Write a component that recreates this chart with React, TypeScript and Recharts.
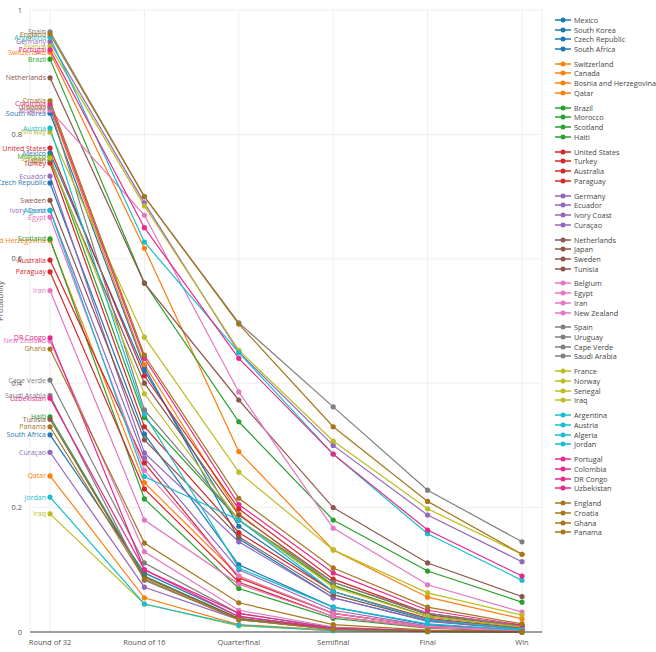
import React from "react";
import {
  LineChart,
  Line,
  XAxis,
  YAxis,
  CartesianGrid,
} from "recharts";

const stages = ["Round of 32", "Round of 16", "Quarterfinal", "Semifinal", "Final", "Win"];

const teams = [
  "Mexico", "South Korea", "Czech Republic", "South Africa",
  "Switzerland", "Canada", "Bosnia and Herzegovina", "Qatar",
  "Brazil", "Morocco", "Scotland", "Haiti",
  "United States", "Turkey", "Australia", "Paraguay",
  "Germany", "Ecuador", "Ivory Coast", "Curaçao",
  "Netherlands", "Japan", "Sweden", "Tunisia",
  "Belgium", "Egypt", "Iran", "New Zealand",
  "Spain", "Uruguay", "Cape Verde", "Saudi Arabia",
  "France", "Norway", "Senegal", "Iraq",
  "Argentina", "Austria", "Algeria", "Jordan",
  "Portugal", "Colombia", "DR Congo", "Uzbekistan",
  "England", "Croatia", "Ghana", "Panama",
];

const groupColors = [
  "#1f77b4", "#ff7f0e", "#2ca02c", "#d62728", "#9467bd", "#8c564b",
  "#e377c2", "#7f7f7f", "#bcbd22", "#17becf", "#e7298a", "#a6761d",
];

const r32 = [
  0.77, 0.834, 0.722, 0.317, 0.932, 0.845, 0.63, 0.251, 0.921, 0.765, 0.632, 0.346,
  0.778, 0.754, 0.598, 0.579, 0.949, 0.733, 0.678, 0.289, 0.891, 0.758, 0.694, 0.342,
  0.839, 0.667, 0.549, 0.468, 0.965, 0.843, 0.405, 0.38, 0.942, 0.804, 0.762, 0.19,
  0.956, 0.81, 0.678, 0.217, 0.936, 0.849, 0.473, 0.376, 0.961, 0.854, 0.455, 0.33,
];
const r16 = [
  0.42, 0.426, 0.318, 0.095, 0.617, 0.43, 0.24, 0.055, 0.561, 0.345, 0.214, 0.09,
  0.412, 0.33, 0.272, 0.23, 0.69, 0.288, 0.28, 0.072, 0.561, 0.4, 0.309, 0.088,
  0.67, 0.26, 0.18, 0.129, 0.7, 0.357, 0.111, 0.083, 0.685, 0.474, 0.383, 0.045,
  0.627, 0.35, 0.25, 0.045, 0.65, 0.44, 0.1, 0.1, 0.7, 0.445, 0.143, 0.085,
];
const qf = [
  0.17, 0.15, 0.108, 0.025, 0.29, 0.19, 0.09, 0.012, 0.338, 0.18, 0.07, 0.022,
  0.198, 0.16, 0.087, 0.08, 0.45, 0.145, 0.1, 0.02, 0.373, 0.188, 0.153, 0.022,
  0.386, 0.09, 0.077, 0.035, 0.497, 0.18, 0.03, 0.02, 0.453, 0.257, 0.18, 0.01,
  0.449, 0.103, 0.18, 0.011, 0.44, 0.205, 0.03, 0.025, 0.495, 0.215, 0.047, 0.02,
];
const sf = [
  0.065, 0.055, 0.04, 0.006, 0.132, 0.075, 0.03, 0.003, 0.18, 0.075, 0.022, 0.005,
  0.085, 0.065, 0.03, 0.025, 0.3, 0.055, 0.035, 0.004, 0.2, 0.08, 0.06, 0.005,
  0.167, 0.03, 0.025, 0.008, 0.362, 0.08, 0.007, 0.004, 0.307, 0.132, 0.072, 0.002,
  0.286, 0.04, 0.065, 0.002, 0.286, 0.095, 0.006, 0.005, 0.33, 0.103, 0.012, 0.004,
];
const fin = [
  0.02, 0.018, 0.012, 0.002, 0.056, 0.025, 0.009, 0.001, 0.098, 0.025, 0.006, 0.0015,
  0.03, 0.022, 0.009, 0.007, 0.188, 0.017, 0.01, 0.001, 0.111, 0.028, 0.02, 0.0015,
  0.076, 0.009, 0.007, 0.002, 0.228, 0.03, 0.002, 0.001, 0.198, 0.063, 0.025, 0.0005,
  0.158, 0.013, 0.02, 0.0005, 0.164, 0.035, 0.002, 0.0015, 0.21, 0.04, 0.003, 0.001,
];
const win = [
  0.006, 0.005, 0.003, 0.0005, 0.021, 0.007, 0.002, 0.0002, 0.048, 0.008, 0.0015, 0.0003,
  0.01, 0.006, 0.002, 0.0015, 0.113, 0.004, 0.002, 0.0002, 0.057, 0.008, 0.005, 0.0003,
  0.032, 0.002, 0.0015, 0.0004, 0.145, 0.01, 0.0004, 0.0002, 0.125, 0.027, 0.008, 0.0001,
  0.083, 0.003, 0.005, 0.0001, 0.09, 0.011, 0.0004, 0.0003, 0.125, 0.013, 0.0006, 0.0002,
];

const series = [r32, r16, qf, sf, fin, win];

const rows = stages.map((stage, i) => {
  const row: Record<string, string | number> = { stage };
  teams.forEach((t, j) => {
    row[t] = series[i][j];
  });
  return row;
});

const colorOf = (j: number) => groupColors[Math.floor(j / 4)];

function Legend() {
  return (
    <div style={{ position: "absolute", left: 555, top: 15, fontFamily: "Open Sans, sans-serif", fontSize: 7.3, color: "#444", whiteSpace: "nowrap" }}>
      {teams.map((t, j) => (
        <div
          key={t}
          style={{
            height: 9.7,
            display: "flex",
            alignItems: "center",
            marginTop: j > 0 && j % 4 === 0 ? 5.2 : 0,
          }}
        >
          <svg width={16} height={8} style={{ marginRight: 3, flexShrink: 0 }}>
            <line x1={0} y1={4} x2={16} y2={4} stroke={colorOf(j)} strokeWidth={1.5} />
            <circle cx={8} cy={4} r={2.5} fill={colorOf(j)} />
          </svg>
          {t}
        </div>
      ))}
    </div>
  );
}

export default function App() {
  return (
    <div style={{ position: "absolute", left: 0, top: 0, width: 656, height: 652, background: "#fff" }}>
      <LineChart
        width={656}
        height={652}
        data={rows}
        margin={{ top: 10, right: 114, left: 8, bottom: 0 }}
        style={{ fontFamily: "Open Sans, sans-serif" }}
      >
        <CartesianGrid stroke="#eeeeee" />
        <XAxis
          dataKey="stage"
          padding={{ left: 20, right: 20 }}
          tick={{ fontSize: 7.5, fill: "#555" }}
          tickLine={false}
          axisLine={{ stroke: "#444" }}
          height={20}
          interval={0}
        />
        <YAxis
          domain={[0, 1]}
          ticks={[0, 0.2, 0.4, 0.6, 0.8, 1]}
          tick={{ fontSize: 7.5, fill: "#555" }}
          axisLine={false}
          tickLine={false}
          width={22}
          label={{ value: "Probability", angle: -90, position: "insideLeft", offset: -8, fontSize: 8, fill: "#555" }}
        />
        {teams.map((t, j) => (
          <Line
            key={t}
            dataKey={t}
            stroke={colorOf(j)}
            strokeWidth={1.2}
            dot={{ r: 2.6, fill: colorOf(j), stroke: colorOf(j), strokeWidth: 0 }}
            isAnimationActive={false}
            label={(p: any) =>
              p.index === 0 ? (
                <text
                  key={t + "-label"}
                  x={p.x - 4}
                  y={p.y + 2.5}
                  textAnchor="end"
                  fontSize={7}
                  fill={colorOf(j)}
                >
                  {t}
                </text>
              ) : (
                <g key={t + "-" + p.index} />
              )
            }
          />
        ))}
      </LineChart>
      <Legend />
    </div>
  );
}
